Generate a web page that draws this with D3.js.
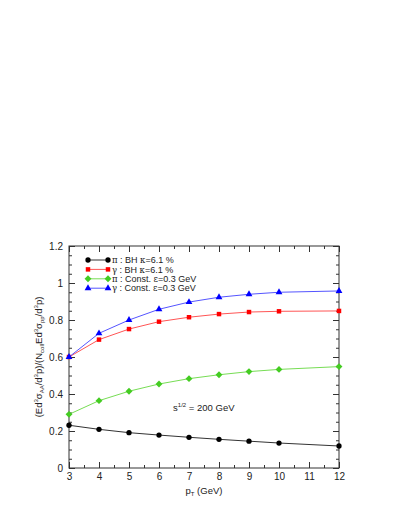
<!DOCTYPE html>
<html>
<head>
<meta charset="utf-8">
<script src="https://cdn.jsdelivr.net/npm/d3@7"></script>
<style>
  body { margin: 0; background: #fff; }
  text { font-family: "Liberation Sans", Arial, sans-serif; }
</style>
</head>
<body>
<div id="chart"></div>
<script>
// data
var pT = [3, 4, 5, 6, 7, 8, 9, 10, 12]
var piBH = [0.231, 0.209, 0.191, 0.178, 0.166, 0.155, 0.145, 0.135, 0.119]
var gammaBH = [0.600, 0.694, 0.751, 0.791, 0.815, 0.832, 0.843, 0.847, 0.849]
var piConst = [0.290, 0.364, 0.415, 0.454, 0.483, 0.504, 0.521, 0.533, 0.548]
var gammaConst = [0.600, 0.728, 0.800, 0.858, 0.897, 0.923, 0.939, 0.950, 0.957]
var xTicks = [3, 4, 5, 6, 7, 8, 9, 10, 11, 12]
var yTicks = [0, 0.2, 0.4, 0.6, 0.8, 1, 1.2]

var series = [
  {name: 'piBH', label: ['π', ' : BH ', 'κ', '=6.1 %'], values: piBH, color: '#000', line: '#333', shape: d3.symbolCircle, size: 22},
  {name: 'gammaBH', label: ['γ', ' : BH ', 'κ', '=6.1 %'], values: gammaBH, color: '#f00', line: '#f55', shape: d3.symbolSquare, size: 20},
  {name: 'piConst', label: ['π', ' : Const. ', 'ε', '=0.3 GeV'], values: piConst, color: '#4c2', line: '#7d5', shape: d3.symbolDiamond2, size: 30},
  {name: 'gammaConst', label: ['γ', ' : Const. ', 'ε', '=0.3 GeV'], values: gammaConst, color: '#00f', line: '#55f', shape: d3.symbolTriangle, size: 20}
]

var width = 409, height = 529
var margin = {top: 246, right: 70, bottom: 61, left: 69}
var mainWidth = width - margin.left - margin.right
var mainHeight = height - margin.top - margin.bottom

var svg = d3.select('#chart').append('svg').attr('width', width).attr('height', height)
var g = svg.append('g').attr('transform', 'translate(' + margin.left + ',' + margin.top + ')')

var x = d3.scaleLinear().domain([3, 12]).range([0, mainWidth])
var y = d3.scaleLinear().domain([0, 1.2]).range([mainHeight, 0])

// minor ticks
var xMinor = d3.range(3, 12.01, 0.5)
var yMinor = d3.range(0, 1.201, 0.05)

function styleAxis(sel) {
  sel.select('.domain').remove()
  sel.selectAll('line').attr('stroke', '#333')
  sel.selectAll('text').attr('font-size', 10).attr('fill', '#222')
}

// bottom axis
g.append('g').attr('transform', 'translate(0,' + mainHeight + ')')
  .call(d3.axisBottom(x).tickValues(xMinor).tickSize(-3).tickFormat(''))
  .call(styleAxis)
g.append('g').attr('transform', 'translate(0,' + mainHeight + ')')
  .call(d3.axisBottom(x).tickValues(xTicks).tickSize(-6).tickPadding(5).tickFormat(d3.format('d')))
  .call(styleAxis)
// top axis
g.append('g').call(d3.axisTop(x).tickValues(xMinor).tickSize(-3).tickFormat('')).call(styleAxis)
g.append('g').call(d3.axisTop(x).tickValues(xTicks).tickSize(-6).tickFormat('')).call(styleAxis)
// left axis
g.append('g').call(d3.axisLeft(y).tickValues(yMinor).tickSize(-3).tickFormat('')).call(styleAxis)
g.append('g')
  .call(d3.axisLeft(y).tickValues(yTicks).tickSize(-6).tickPadding(6).tickFormat(function (d) { return d3.format('~g')(d) }))
  .call(styleAxis)
// right axis
g.append('g').attr('transform', 'translate(' + mainWidth + ',0)')
  .call(d3.axisRight(y).tickValues(yMinor).tickSize(-3).tickFormat('')).call(styleAxis)
g.append('g').attr('transform', 'translate(' + mainWidth + ',0)')
  .call(d3.axisRight(y).tickValues(yTicks).tickSize(-6).tickFormat('')).call(styleAxis)

// frame
g.append('rect').attr('width', mainWidth).attr('height', mainHeight)
  .attr('fill', 'none').attr('stroke', '#333').attr('stroke-width', 1)

// lines and markers
var line = d3.line().x(function (d) { return x(d[0]) }).y(function (d) { return y(d[1]) })
series.forEach(function (s) {
  var pts = pT.map(function (p, i) { return [p, s.values[i]] })
  g.append('path').datum(pts).attr('d', line)
    .attr('fill', 'none').attr('stroke', s.line).attr('stroke-width', 1)
  g.selectAll('.m-' + s.name).data(pts).enter().append('path')
    .attr('class', 'm-' + s.name)
    .attr('transform', function (d) { return 'translate(' + x(d[0]) + ',' + y(d[1]) + ')' })
    .attr('d', d3.symbol().type(s.shape).size(s.size))
    .attr('fill', s.color)
})

// legend
var legend = g.append('g').attr('transform', 'translate(19,14)')
series.forEach(function (s, i) {
  var row = legend.append('g').attr('transform', 'translate(0,' + (i * 9.4) + ')')
  row.append('line').attr('x1', 0).attr('x2', 20).attr('stroke', s.line).attr('stroke-width', 1)
  ;[0, 20].forEach(function (px) {
    row.append('path').attr('transform', 'translate(' + px + ',0)')
      .attr('d', d3.symbol().type(s.shape).size(s.size)).attr('fill', s.color)
  })
  var t = row.append('text').attr('x', 24).attr('y', 3.2).attr('font-size', 9).attr('fill', '#222')
  s.label.forEach(function (part, j) {
    var ts = t.append('tspan').text(part)
    if (j % 2 === 0) ts.attr('font-family', '"DejaVu Serif", serif').attr('font-size', 8.5)
  })
})

// annotation
var ann = g.append('text').attr('x', x(6.47)).attr('y', y(0.31)).attr('font-size', 9.5).attr('fill', '#222')
ann.append('tspan').text('s')
ann.append('tspan').attr('dy', -4).attr('font-size', 6).text('1/2')
ann.append('tspan').attr('dy', 4).text(' = 200 GeV')

// x title
var xt = g.append('text').attr('x', mainWidth / 2).attr('y', mainHeight + 26)
  .attr('text-anchor', 'middle').attr('font-size', 9.5).attr('fill', '#222')
xt.append('tspan').text('p')
xt.append('tspan').attr('dy', 2).attr('font-size', 6).text('T')
xt.append('tspan').attr('dy', -2).text(' (GeV)')

// y title
var yt = g.append('text').attr('transform', 'translate(-27,' + (mainHeight / 2) + ') rotate(-90)')
  .attr('text-anchor', 'middle').attr('font-size', 9.5).attr('fill', '#222')
var parts = [['(Ed', 0], ['3', -1], ['σ', 0], ['AA', 1], ['/d', 0], ['3', -1], ['p)/(N', 0], ['coll', 1],
  ['Ed', 0], ['3', -1], ['σ', 0], ['pp', 1], ['/d', 0], ['3', -1], ['p)', 0]]
var level = 0
parts.forEach(function (p) {
  var ts = yt.append('tspan').text(p[0])
  var shift = p[1] === -1 ? -4 : p[1] === 1 ? 2 : 0
  var prev = level === -1 ? -4 : level === 1 ? 2 : 0
  if (shift - prev !== 0) ts.attr('dy', shift - prev)
  if (p[1] !== 0) ts.attr('font-size', 6)
  level = p[1]
})
</script>
</body>
</html>
